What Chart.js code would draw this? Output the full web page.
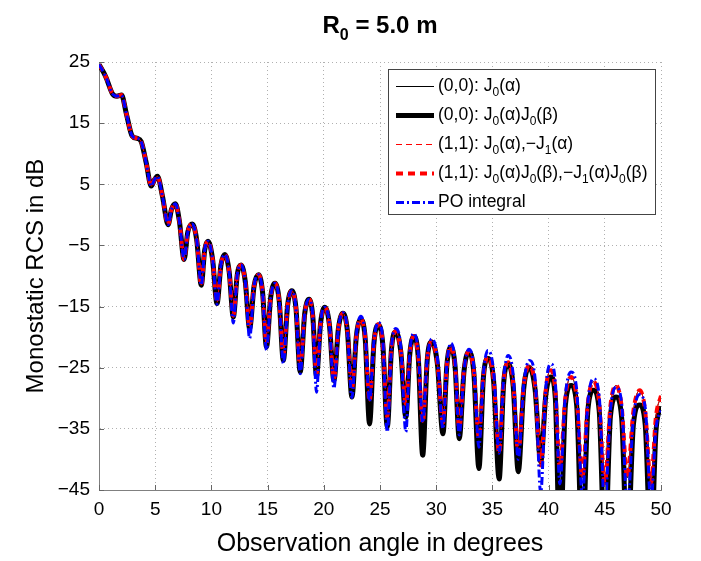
<!DOCTYPE html>
<html>
<head>
<meta charset="utf-8">
<script src="https://cdn.jsdelivr.net/npm/chart.js@4.4.0/dist/chart.umd.min.js"></script>
<style>
html, body { margin: 0; padding: 0; background: #fff; }
</style>
</head>
<body>
<canvas id="rcsChart" width="701" height="561"></canvas>
<script>
// angle samples (deg): shoulders, then null / flank / peak / flank per lobe
const angles = [
    0, 0.6, 1.2, 1.6, 2.0, 2.45, 2.95, 3.4, 3.75, 4.2,
    4.65, 4.95, 5.2, 5.65,
    6.15, 6.45, 6.8, 7.15,
    7.57, 7.9, 8.3, 8.7,
    9.1, 9.4, 9.7, 10.1,
    10.5, 10.85, 11.2, 11.58,
    11.95, 12.3, 12.65, 13.02,
    13.4, 13.8, 14.2, 14.55,
    14.9, 15.28, 15.66, 16.03,
    16.4, 16.78, 17.15, 17.52,
    17.9, 18.3, 18.7, 19.02,
    19.35, 19.72, 20.1, 20.5,
    20.9, 21.3, 21.7, 22.1,
    22.5, 22.9, 23.3, 23.68,
    24.07, 24.46, 24.85, 25.25,
    25.65, 26.02, 26.4, 26.85,
    27.3, 27.65, 28.0, 28.4,
    28.8, 29.2, 29.6, 30.1,
    30.6, 30.95, 31.3, 31.68,
    32.05, 32.48, 32.9, 33.35,
    33.8, 34.2, 34.6, 35.1,
    35.6, 36.0, 36.4, 36.85,
    37.3, 37.8, 38.3, 38.8,
    39.3, 39.75, 40.2, 40.6,
    41.0, 41.5, 42.0, 42.5,
    43.0, 43.5, 44.0, 44.5,
    45.0, 45.5, 46.0, 46.5,
    47.0, 47.55, 48.1, 48.6,
    49.1, 49.55, 50.0
];

// (0,0): J0(a)J0(b)  - thick black
const j0j0DB = [
    24.6, 22.6, 19.8, 19.4, 19.6, 16.4, 12.9, 12.5, 12.0, 8.5,
    4.7, 5.8, 6.3, 3.0,
    -1.6, 0.9, 1.8, -1.0,
    -7.3, -2.8, -1.5, -4.2,
    -11.5, -5.8, -4.3, -7.2,
    -14.5, -8.2, -6.5, -9.3,
    -16.7, -9.8, -8.2, -11.0,
    -18.6, -11.6, -9.8, -12.6,
    -21.6, -13.4, -11.2, -14.0,
    -23.8, -14.8, -12.4, -15.2,
    -25.7, -16.2, -13.8, -16.6,
    -26.4, -17.6, -15.1, -18.0,
    -27.1, -18.6, -16.1, -19.0,
    -29.8, -19.8, -17.1, -20.2,
    -34.2, -21.0, -18.0, -21.2,
    -34.7, -22.0, -19.1, -22.4,
    -33.1, -22.8, -19.9, -23.2,
    -39.3, -23.8, -20.8, -24.3,
    -35.8, -24.6, -21.6, -24.8,
    -36.6, -25.5, -22.4, -25.9,
    -41.5, -26.6, -23.5, -27.0,
    -43.2, -27.6, -24.4, -28.0,
    -42.0, -28.2, -25.0, -28.6,
    -40.4, -29.5, -26.5, -30.0,
    -55, -31.0, -27.9, -31.2,
    -55, -31.8, -28.7, -32.0,
    -55, -33.0, -29.8, -33.2,
    -55, -34.2, -31.1, -34.4,
    -55, -35.5, -31.3
];

// (0,0): J0(a) and both (1,1) curves - thin black, red dashed
const j0DB = [
    24.6, 22.6, 19.8, 19.4, 19.6, 16.4, 12.9, 12.5, 12.0, 8.5,
    4.7, 5.8, 6.3, 3.0,
    -1.6, 0.9, 1.8, -1.0,
    -7.3, -2.8, -1.5, -4.2,
    -11.5, -5.8, -4.3, -7.2,
    -14.3, -8.2, -6.5, -9.3,
    -16.5, -9.8, -8.2, -11.0,
    -18.3, -11.6, -9.8, -12.6,
    -21.0, -13.4, -11.2, -14.0,
    -23.0, -14.8, -12.4, -15.2,
    -25.0, -16.2, -13.8, -16.6,
    -26.0, -17.6, -15.1, -18.0,
    -26.8, -18.6, -16.1, -19.0,
    -28.5, -19.8, -17.0, -20.1,
    -30.5, -20.9, -17.9, -21.1,
    -33.0, -21.9, -19.0, -22.3,
    -31.0, -22.7, -19.8, -23.1,
    -34.0, -23.7, -20.7, -24.2,
    -34.0, -24.5, -21.5, -24.7,
    -35.0, -25.3, -22.3, -25.7,
    -36.5, -26.3, -23.2, -26.7,
    -39.0, -27.2, -24.1, -27.6,
    -39.0, -27.8, -24.6, -28.1,
    -41.0, -28.6, -25.4, -28.8,
    -41.5, -29.8, -26.5, -30.0,
    -43.0, -30.6, -27.3, -30.8,
    -44.0, -31.2, -27.9, -31.4,
    -43.0, -32.0, -28.7, -32.2,
    -44.0, -33.0, -29.6
];

// PO integral - blue dash-dot
const poDB = [
    24.6, 22.6, 19.8, 19.4, 19.6, 16.4, 12.9, 12.5, 12.0, 8.5,
    4.7, 5.8, 6.3, 3.0,
    -1.6, 0.9, 1.8, -1.0,
    -7.3, -2.8, -1.5, -4.2,
    -11.5, -5.8, -4.3, -7.2,
    -14.6, -8.2, -6.5, -9.3,
    -17.7, -9.8, -8.2, -11.0,
    -20.2, -11.6, -9.8, -12.6,
    -22.1, -13.4, -11.2, -14.0,
    -24.3, -14.8, -12.4, -15.2,
    -26.0, -16.2, -13.8, -16.5,
    -29.0, -17.6, -15.1, -17.9,
    -28.4, -18.6, -16.0, -18.8,
    -29.9, -19.5, -16.6, -19.6,
    -30.5, -20.7, -17.6, -20.5,
    -35.5, -21.8, -18.6, -21.6,
    -35.5, -22.6, -19.4, -22.4,
    -34.0, -23.6, -20.3, -23.3,
    -35.0, -24.4, -21.0, -24.0,
    -36.0, -25.4, -22.0, -24.9,
    -38.0, -26.0, -22.2, -25.4,
    -39.0, -26.8, -23.0, -26.2,
    -40.0, -27.6, -23.8, -26.8,
    -45.5, -28.4, -24.4, -27.4,
    -44.0, -29.4, -25.7, -28.6,
    -46.0, -30.6, -26.8, -29.6,
    -48.0, -32.0, -28.2, -30.8,
    -48.0, -33.2, -29.4, -31.6,
    -47.0, -35.0, -32.0
];

const xTicks = [0, 5, 10, 15, 20, 25, 30, 35, 40, 45, 50];
const yTicks = [-45, -35, -25, -15, -5, 5, 15, 25];

// legend entries: [text, isSubscript]
const legendRows = [
    [['(0,0): J', 0], ['0', 1], ['(α)', 0]],
    [['(0,0): J', 0], ['0', 1], ['(α)J', 0], ['0', 1], ['(β)', 0]],
    [['(1,1): J', 0], ['0', 1], ['(α),−J', 0], ['1', 1], ['(α)', 0]],
    [['(1,1): J', 0], ['0', 1], ['(α)J', 0], ['0', 1], ['(β),−J', 0], ['1', 1], ['(α)J', 0], ['0', 1], ['(β)', 0]],
    [['PO integral', 0]]
];
const titleParts = [['R', 0], ['0', 1], [' = 5.0 m', 0]];

const FONT = '"Liberation Sans", Arial, Helvetica, sans-serif';

function toPoints(vals) {
    return angles.map((a, i) => ({ x: a, y: vals[i] }));
}

function richWidth(ctx, parts, size, weight) {
    let w = 0;
    parts.forEach(([txt, sub]) => {
        ctx.font = weight + ' ' + (sub ? Math.round(size * 0.68) : size) + 'px ' + FONT;
        w += ctx.measureText(txt).width;
    });
    return w;
}

function drawRich(ctx, parts, x, y, size, weight) {
    let cx = x;
    ctx.textAlign = 'left';
    ctx.textBaseline = 'middle';
    parts.forEach(([txt, sub]) => {
        ctx.font = weight + ' ' + (sub ? Math.round(size * 0.68) : size) + 'px ' + FONT;
        ctx.fillText(txt, cx, sub ? y + size * 0.38 : y);
        cx += ctx.measureText(txt).width;
    });
}

const decorPlugin = {
    id: 'decor',
    afterDraw(chart) {
        const ctx = chart.ctx;
        const area = chart.chartArea;
        const xs = chart.scales.x, ys = chart.scales.y;

        // inward tick marks
        ctx.save();
        ctx.strokeStyle = '#666';
        ctx.lineWidth = 1;
        ctx.beginPath();
        xTicks.forEach(v => {
            const px = Math.round(xs.getPixelForValue(v)) + 0.5;
            ctx.moveTo(px, area.bottom);
            ctx.lineTo(px, area.bottom - 5);
        });
        yTicks.forEach(v => {
            const py = Math.round(ys.getPixelForValue(v)) + 0.5;
            ctx.moveTo(area.left, py);
            ctx.lineTo(area.left + 5, py);
        });
        ctx.stroke();
        ctx.restore();

        // title
        ctx.save();
        ctx.fillStyle = '#000';
        const tw = richWidth(ctx, titleParts, 24, 'bold');
        drawRich(ctx, titleParts, (area.left + area.right) / 2 - tw / 2, 26, 24, 'bold');
        ctx.restore();

        // legend box
        const box = { left: 388.5, top: 69.5, right: 655.5, bottom: 214.5 };
        ctx.save();
        ctx.fillStyle = '#fff';
        ctx.fillRect(box.left, box.top, box.right - box.left, box.bottom - box.top);
        ctx.strokeStyle = '#444';
        ctx.lineWidth = 1;
        ctx.strokeRect(box.left, box.top, box.right - box.left, box.bottom - box.top);
        const legendOrder = [0, 1, 2, 3, 4];
        legendOrder.forEach((di, row) => {
            const ds = chart.data.datasets[di];
            const y = box.top + 17 + row * 29;
            ctx.save();
            ctx.strokeStyle = ds.borderColor;
            ctx.lineWidth = ds.borderWidth;
            ctx.setLineDash(ds.borderDash || []);
            ctx.beginPath();
            ctx.moveTo(396, y);
            ctx.lineTo(434, y);
            ctx.stroke();
            ctx.restore();
            ctx.fillStyle = '#000';
            drawRich(ctx, legendRows[row], 438, y, 17.5, 'normal');
        });
        ctx.restore();
    }
};

const tickLabel = v => (v < 0 ? '\u2212' + Math.abs(v) : String(v));

const lineBase = {
    pointRadius: 0,
    fill: false,
    cubicInterpolationMode: 'monotone',
    borderCapStyle: 'butt',
    borderJoinStyle: 'round'
};

new Chart(document.getElementById('rcsChart').getContext('2d'), {
    type: 'line',
    data: {
        datasets: [
            Object.assign({}, lineBase, { label: '(0,0): J0(α)', data: toPoints(j0DB), borderColor: '#000000', borderWidth: 1, order: 4 }),
            Object.assign({}, lineBase, { label: '(0,0): J0(α)J0(β)', data: toPoints(j0j0DB), borderColor: '#000000', borderWidth: 5, order: 5 }),
            Object.assign({}, lineBase, { label: '(1,1): J0(α),−J1(α)', data: toPoints(j0DB), borderColor: '#ff0000', borderWidth: 1, borderDash: [6, 4], order: 3 }),
            Object.assign({}, lineBase, { label: '(1,1): J0(α)J0(β),−J1(α)J0(β)', data: toPoints(j0DB), borderColor: '#ff0000', borderWidth: 4, borderDash: [7, 5], order: 2 }),
            Object.assign({}, lineBase, { label: 'PO integral', data: toPoints(poDB), borderColor: '#0000ff', borderWidth: 3, borderDash: [8, 3, 2, 3], order: 1 })
        ]
    },
    options: {
        responsive: false,
        animation: false,
        layout: { padding: { top: 62, right: 40, left: 0, bottom: 0 } },
        plugins: {
            legend: { display: false },
            tooltip: { enabled: false }
        },
        scales: {
            x: {
                type: 'linear',
                min: 0,
                max: 50,
                afterBuildTicks: s => { s.ticks = xTicks.map(v => ({ value: v })); },
                afterFit: s => { s.height = 71; },
                ticks: { color: '#000', font: { family: FONT, size: 19 }, padding: 8, maxRotation: 0, callback: tickLabel },
                grid: { color: '#b0b0b0', drawTicks: false },
                border: { color: '#808080', width: 1, dash: [1, 3] },
                title: { display: true, text: 'Observation angle in degrees', color: '#000', font: { family: FONT, size: 25 }, padding: { top: 0, bottom: 2 } }
            },
            y: {
                type: 'linear',
                min: -45,
                max: 25,
                afterBuildTicks: s => { s.ticks = yTicks.map(v => ({ value: v })); },
                afterFit: s => { s.width = 99; },
                ticks: { color: '#000', font: { family: FONT, size: 19 }, padding: 9, callback: tickLabel },
                grid: { color: '#b0b0b0', drawTicks: false },
                border: { color: '#808080', width: 1, dash: [1, 3] },
                title: { display: true, text: 'Monostatic RCS in dB', color: '#000', font: { family: FONT, size: 24 }, padding: { top: 22, bottom: 0 } }
            }
        }
    },
    plugins: [decorPlugin]
});
</script>
</body>
</html>
